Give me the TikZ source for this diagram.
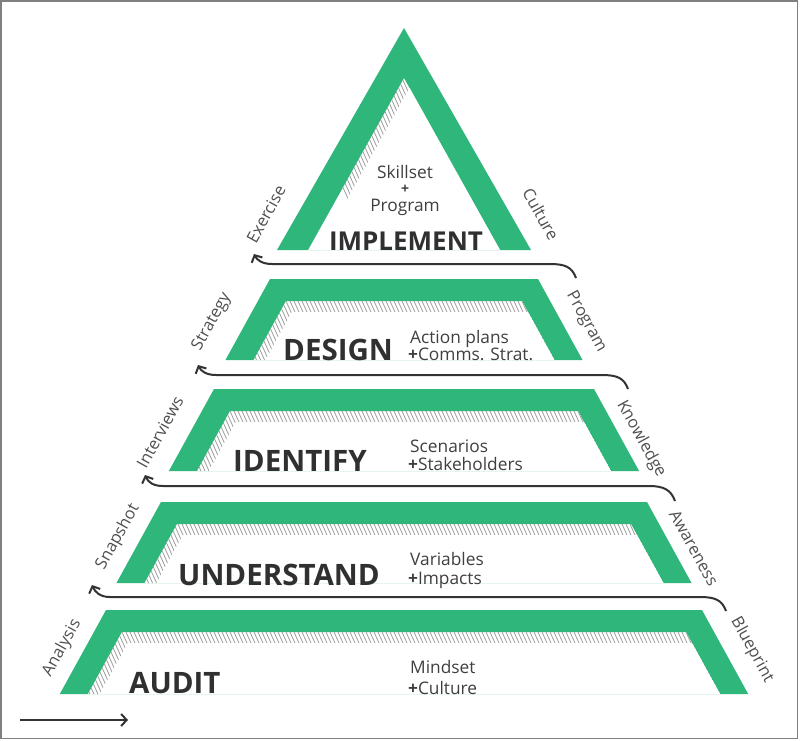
\documentclass[tikz,border=0pt]{standalone}
\usepackage{fontspec}
\setmainfont{Open Sans}
\usetikzlibrary{arrows.meta}
\definecolor{pgreen}{HTML}{2FB77B}
\definecolor{titlegray}{HTML}{303030}
\definecolor{txtgray}{HTML}{3F3F3F}
\definecolor{lblgray}{HTML}{505050}
\definecolor{hatchgray}{HTML}{9E9E9E}
\definecolor{arrowgray}{HTML}{333333}
\definecolor{framegray}{HTML}{808080}
\tikzset{
  hatchline/.style={draw=hatchgray,line width=0.8pt},
  band/.style={fill=pgreen,even odd rule},
  conn/.style={draw=arrowgray,line width=2pt,-{Straight Barb[length=5.5pt,width=12pt,line width=2pt]}},
  tiertitle/.style={inner sep=0pt,text=titlegray,font=\bfseries\fontsize{29.5}{30}\selectfont},
  tiertext/.style={inner sep=0pt,text=txtgray,font=\fontsize{17.3}{18}\selectfont},
  leftlbl/.style={inner sep=0pt,text=lblgray,rotate=61,font=\fontsize{16.5}{17}\selectfont},
  rightlbl/.style={inner sep=0pt,text=lblgray,rotate=-61,font=\fontsize{16.5}{17}\selectfont},
}
% #1 top y, #2 bottom y, #3 half width at top
\newcommand\pyrTier[3]{%
  \pgfmathsetmacro\pyrHb{#3+0.55*(#2-#1)}%
  \pgfmathsetmacro\pyrYi{#1+22}%
  \pgfmathsetmacro\pyrHbi{\pyrHb-28}%
  \pgfmathsetmacro\pyrHti{\pyrHbi-0.55*(#2-#1-22)}%
  \pgfmathsetmacro\pyrDy{#2-\pyrYi}%
  \pgfmathsetmacro\pyrDx{0.45*\pyrDy}%
  \pgfmathsetmacro\pyrYs{\pyrYi+11}%
  \pgfmathsetmacro\pyrYbs{#2+11}%
  \fill[band] ({404-#3},#1) -- ({404+#3},#1) -- ({404+\pyrHb},#2) -- ({404-\pyrHb},#2) -- cycle
    ({404-\pyrHti},\pyrYi) -- ({404+\pyrHti},\pyrYi) -- ({404+\pyrHbi},#2) -- ({404-\pyrHbi},#2) -- cycle;
  \begin{scope}
    \clip ({404-\pyrHti},\pyrYi) -- ({404+\pyrHti},\pyrYi) -- ({404+\pyrHbi},#2) -- ({404-\pyrHbi},#2) -- cycle;
    \foreach \k in {-370,-366,...,370} \draw[hatchline] ({404+\k},\pyrYi) -- ++(\pyrDx,\pyrDy);
    \fill[white] ({410-\pyrHti},\pyrYs) -- ({410+\pyrHti},\pyrYs) -- ({410+\pyrHbi},\pyrYbs) -- ({410-\pyrHbi},\pyrYbs) -- cycle;
  \end{scope}
}
\begin{document}
\begin{tikzpicture}[x=1pt,y=-1pt]
\useasboundingbox (0,0) rectangle (800,741);
\fill[white] (0,0) rectangle (800,741);
\draw[framegray,line width=1.6pt] (1,1) rectangle (797.5,738.5);

% top triangle
\fill[band] (404,28) -- (531,250) -- (277,250) -- cycle (404,78) -- (500,250) -- (308,250) -- cycle;
\begin{scope}
  \clip (404,78) -- (500,250) -- (308,250) -- cycle;
  \foreach \k in {-110,-106,...,110} \draw[hatchline] ({404+\k},78) -- ++(77,172);
  \fill[white] (415,78) -- (511,250) -- (319,250) -- cycle;
\end{scope}

% tiers
\pyrTier{279}{360}{134}
\pyrTier{389}{471}{190}
\pyrTier{502}{583}{243}
\pyrTier{610}{694}{298}

% titles
\node[tiertitle,anchor=base,font=\bfseries\fontsize{26}{27}\selectfont] (implement) at (406,250) {IMPLEMENT};
\node[tiertitle,anchor=base west] (design) at (283,360) {DESIGN};
\node[tiertitle,anchor=base west] (identify) at (233,471) {IDENTIFY};
\node[tiertitle,anchor=base west] (understand) at (178,585) {UNDERSTAND};
\node[tiertitle,anchor=base west] (audit) at (129,693) {AUDIT};

% tier texts
\node[tiertext,anchor=base] (skill) at (405,178) {Skillset};
\node[tiertext,anchor=base,font=\bfseries\fontsize{14}{14}\selectfont] (plus) at (405,193) {+};
\node[tiertext,anchor=base] (prog) at (405,211) {Program};
\node[tiertext,anchor=base west] (act) at (410,343) {Action plans};
\node[tiertext,anchor=base west] (comms) at (408,360) {\textbf{+}Comms. Strat.};
\node[tiertext,anchor=base west] (scen) at (410,452) {Scenarios};
\node[tiertext,anchor=base west] (stake) at (408,470) {\textbf{+}Stakeholders};
\node[tiertext,anchor=base west] (vari) at (410,565) {Variables};
\node[tiertext,anchor=base west] (imp) at (408,584) {\textbf{+}Impacts};
\node[tiertext,anchor=base west] (mind) at (410,673) {Mindset};
\node[tiertext,anchor=base west] (cult) at (408,694) {\textbf{+}Culture};

% side labels
\node[leftlbl] (l1) at (266,214) {Exercise};
\node[leftlbl] (l2) at (212,322) {Strategy};
\node[leftlbl] (l3) at (160,432) {Interviews};
\node[leftlbl] (l4) at (118,537) {Snapshot};
\node[leftlbl] (l5) at (62,648) {Analysis};
\node[rightlbl] (r1) at (541,214) {Culture};
\node[rightlbl] (r2) at (586,322) {Program};
\node[rightlbl] (r3) at (641,439) {Knowledge};
\node[rightlbl] (r4) at (694,548) {Awareness};
\node[rightlbl] (r5) at (752,650) {Blueprint};

% connectors
\coordinate (a1s) at (726,611); \coordinate (a1e) at (92,585);
\coordinate (a2s) at (675,501); \coordinate (a2e) at (145,475);
\coordinate (a3s) at (628,389); \coordinate (a3e) at (198,365);
\coordinate (a4s) at (576,278); \coordinate (a4e) at (254,254);
\draw[conn] (a1s) .. controls (722,600) and (715,597) .. (700,597) -- (110,597) .. controls (100,597) and (95,592) .. (a1e);
\draw[conn] (a2s) .. controls (671,490) and (664,486) .. (649,486) -- (163,486) .. controls (153,486) and (148,482) .. (a2e);
\draw[conn] (a3s) .. controls (624,378) and (617,375) .. (602,375) -- (216,375) .. controls (206,375) and (201,371) .. (a3e);
\draw[conn] (a4s) .. controls (572,267) and (565,264) .. (550,264) -- (272,264) .. controls (262,264) and (257,260) .. (a4e);

\coordinate (b1) at (20,720); \coordinate (b2) at (128,720);
\draw[conn] (b1) -- (b2);
\end{tikzpicture}
\end{document}
